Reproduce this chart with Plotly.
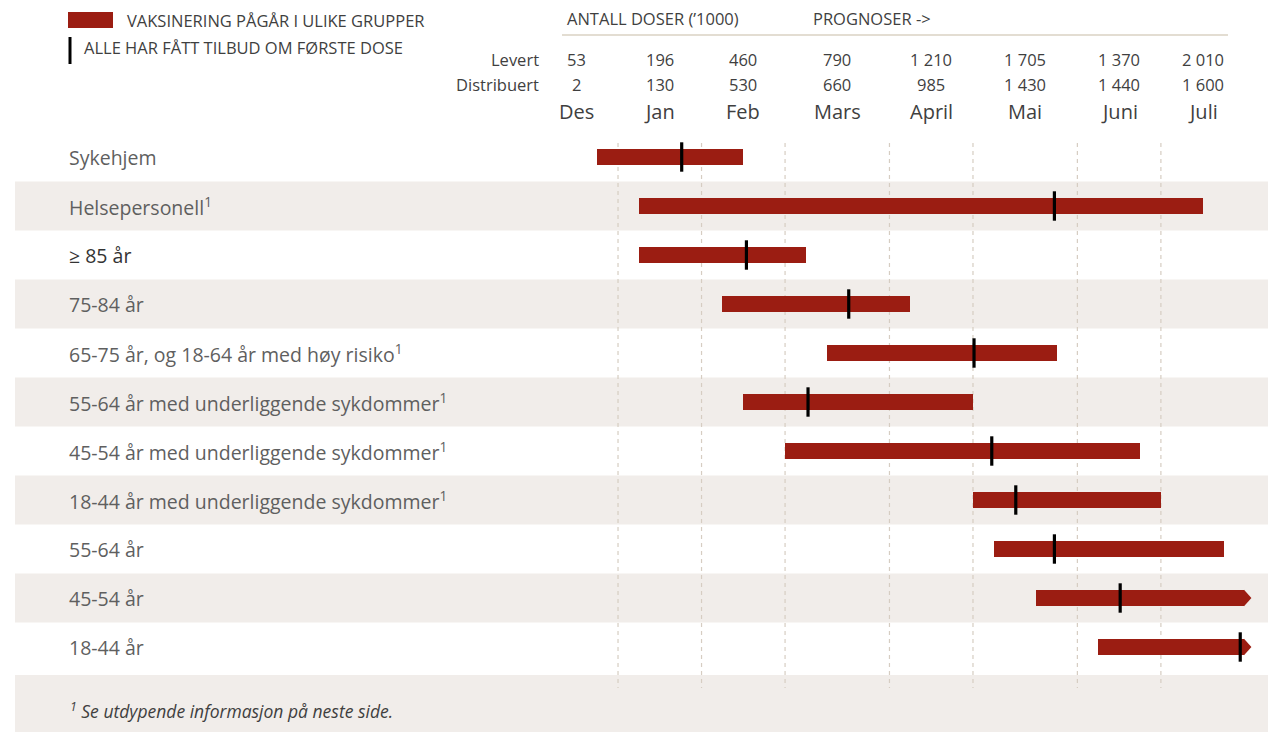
import plotly.graph_objects as go

# ---------------- data ----------------
groups = [
    "Sykehjem",
    "Helsepersonell<sup>1</sup>",
    "≥ 85 år",
    "75-84 år",
    "65-75 år, og 18-64 år med høy risiko<sup>1</sup>",
    "55-64 år med underliggende sykdommer<sup>1</sup>",
    "45-54 år med underliggende sykdommer<sup>1</sup>",
    "18-44 år med underliggende sykdommer<sup>1</sup>",
    "55-64 år",
    "45-54 år",
    "18-44 år",
]
# timeline in weeks from start of December
start_week = [3, 5, 5, 9, 14, 10, 12, 21, 22, 24, 27]
end_week = [10, 32, 13, 18, 25, 21, 29, 30, 33, 34, 34]
first_dose_week = [7.05, 24.9, 10.15, 15.05, 21.05, 13.1, 21.9, 23.05, 24.9, 28.05, 33.8]
continues = [False, False, False, False, False, False, False, False, False, True, True]

months = ["Des", "Jan", "Feb", "Mars", "April", "Mai", "Juni", "Juli"]
month_start_week = [0, 4, 8, 12, 17, 21, 26, 30]
month_end_week = [4, 8, 12, 17, 21, 26, 30, 34]
levert = ["53", "196", "460", "790", "1 210", "1 705", "1 370", "2 010"]
distribuert = ["2", "130", "530", "660", "985", "1 430", "1 440", "1 600"]

# ---------------- styling ----------------
W, H = 1276, 732
OFF = 8                 # page body margin
PX_PER_WEEK = 20.88
X0_PX = 534.5           # pixel of week 0 (page coords)
ROW0_PX, ROW_PX = 157, 49
BAR_RED = "#9b1d12"
BAND = "#f1edea"
GRID = "#d6cdc2"
TXT = "#5f5f5f"
HDR = "#3f3f3f"
FONT = "Open Sans"


def px(x):
    return (x - OFF) / W


def py(y):
    return 1 - (y - OFF) / H


def ry(y):
    return (y - ROW0_PX) / ROW_PX


x_range = [-(X0_PX - OFF) / PX_PER_WEEK, (W - (X0_PX - OFF)) / PX_PER_WEEK]
y_range = [(H - (ROW0_PX - OFF)) / ROW_PX, -(ROW0_PX - OFF) / ROW_PX]

n = len(groups)
rows = list(range(n))
bar_w = 16.5 / ROW_PX

fig = go.Figure()

fig.add_trace(go.Bar(
    y=rows, x=[e - s for s, e in zip(start_week, end_week)], base=start_week,
    orientation="h", width=bar_w, marker=dict(color=BAR_RED, line=dict(width=0)),
    hoverinfo="skip", showlegend=False,
))
fig.add_trace(go.Scatter(
    x=first_dose_week, y=rows, mode="markers",
    marker=dict(symbol="line-ns", size=21, line=dict(width=3.2, color="black"), color="black"),
    hoverinfo="skip", showlegend=False,
))

shapes = []
for i in rows:
    if i % 2 == 1:
        shapes.append(dict(type="rect", xref="paper", yref="y", x0=px(15), x1=px(1272),
                           y0=i - 0.5, y1=i + 0.5, fillcolor=BAND, line=dict(width=0), layer="below"))
shapes.append(dict(type="rect", xref="paper", yref="paper", x0=px(15), x1=px(1272),
                   y0=0, y1=py(675), fillcolor=BAND, line=dict(width=0), layer="below"))
for wk in month_start_week[1:]:
    shapes.append(dict(type="line", xref="x", yref="y", x0=wk, x1=wk,
                       y0=ry(143), y1=ry(688),
                       line=dict(color=GRID, width=1.2, dash="4px,4px"), layer="below"))
tip = 7 / PX_PER_WEEK
for i in rows:
    if continues[i]:
        e = end_week[i]
        h = bar_w / 2
        shapes.append(dict(type="path", xref="x", yref="y",
                           path=f"M {e - 0.02},{i - h} L {e + tip},{i} L {e - 0.02},{i + h} Z",
                           fillcolor=BAR_RED, line=dict(width=0), layer="below"))
shapes.append(dict(type="line", xref="paper", yref="paper", x0=px(562), x1=px(1228),
                   y0=py(35), y1=py(35), line=dict(color="#e3ddd2", width=2)))
shapes.append(dict(type="rect", xref="paper", yref="paper", x0=px(68), x1=px(113),
                   y0=py(28), y1=py(12), fillcolor=BAR_RED, line=dict(width=0)))
shapes.append(dict(type="line", xref="paper", yref="paper", x0=px(70), x1=px(70),
                   y0=py(64), y1=py(37), line=dict(color="black", width=3)))

ann = []


def pann(text, xpx, ypx, size, color=HDR, xanchor="left", italic=False):
    ann.append(dict(text=text, xref="paper", yref="paper", x=px(xpx), y=py(ypx),
                    xanchor=xanchor, yanchor="middle", showarrow=False,
                    font=dict(family=FONT, size=size, color=color,
                              style="italic" if italic else "normal")))


pann("VAKSINERING PÅGÅR I ULIKE GRUPPER", 125, 20, 16.5)
pann("ALLE HAR FÅTT TILBUD OM FØRSTE DOSE", 82, 48, 16.5)
pann("ANTALL DOSER (’1000)", 565, 18, 16.5)
pann("PROGNOSER ->", 811, 18, 16.5)
pann("Levert", 541, 59, 16.5, xanchor="right")
pann("Distribuert", 541, 84, 16.5, xanchor="right")
pann("<sup>1</sup> Se utdypende informasjon på neste side.", 68, 710, 17.5, italic=True)

for i in range(len(months)):
    c = (month_start_week[i] + month_end_week[i]) / 2
    for txt, ypx, sz in ((levert[i], 59, 16.5), (distribuert[i], 84, 16.5), (months[i], 112, 20)):
        ann.append(dict(text=txt, xref="x", yref="paper", x=c, y=py(ypx),
                        xanchor="center", yanchor="middle", showarrow=False,
                        font=dict(family=FONT, size=sz, color=HDR)))

for i, g in enumerate(groups):
    ann.append(dict(text=g, xref="paper", yref="y", x=px(67), y=i, xanchor="left",
                    yanchor="middle", showarrow=False,
                    font=dict(family=FONT, size=19.5, color="#333333" if g.startswith("≥") else TXT)))

fig.update_layout(
    width=W, height=H, margin=dict(l=0, r=0, t=0, b=0),
    paper_bgcolor="white", plot_bgcolor="rgba(0,0,0,0)",
    xaxis=dict(range=x_range, visible=False, fixedrange=True),
    yaxis=dict(range=y_range, visible=False, fixedrange=True),
    shapes=shapes, annotations=ann, bargap=0, showlegend=False,
)

fig.write_html("out.html")
